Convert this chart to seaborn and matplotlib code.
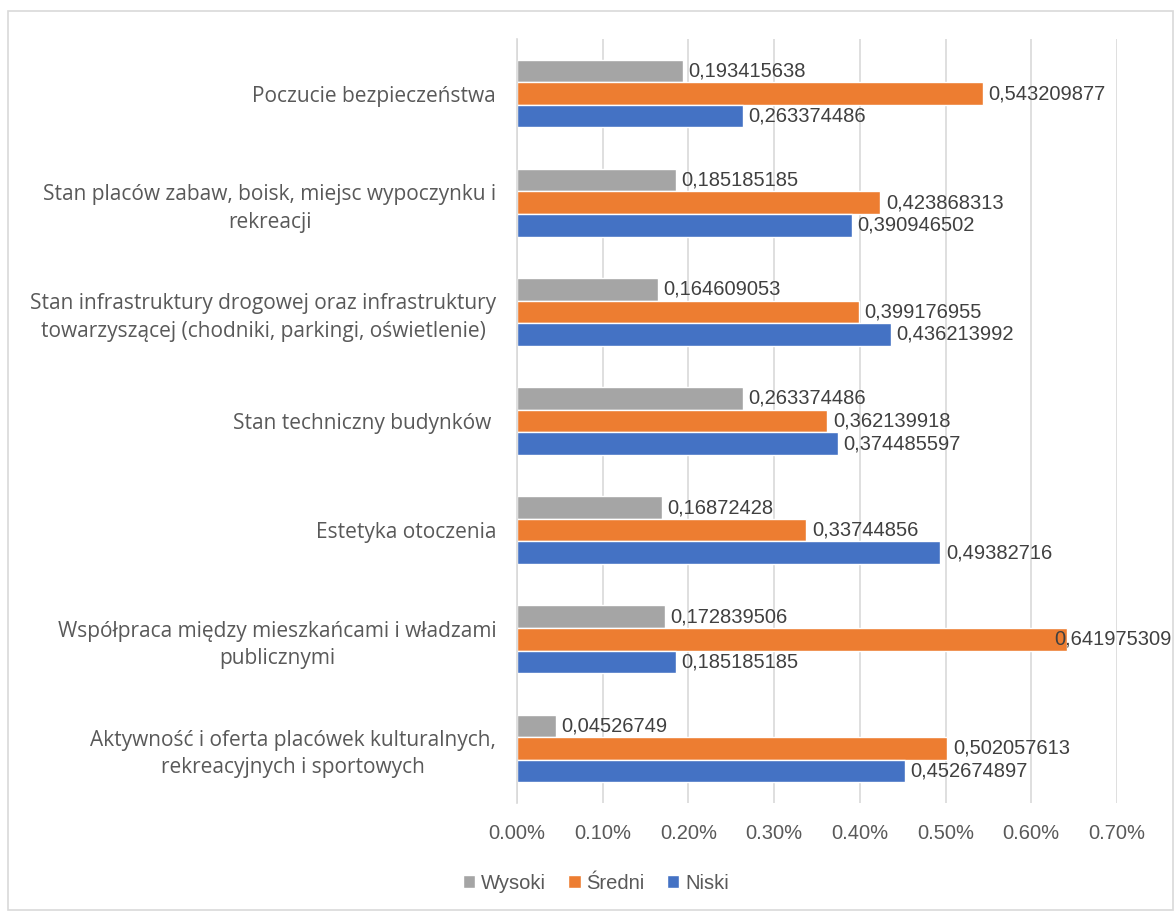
import matplotlib
matplotlib.use("Agg")
import matplotlib.pyplot as plt
import seaborn as sns
import pandas as pd
from matplotlib.patches import Rectangle

categories = [
    "Poczucie bezpieczeństwa",
    "Stan placów zabaw, boisk, miejsc wypoczynku i\nrekreacji",
    "Stan infrastruktury drogowej oraz infrastruktury\ntowarzyszącej (chodniki, parkingi, oświetlenie)",
    "Stan techniczny budynków ",
    "Estetyka otoczenia",
    "Współpraca między mieszkańcami i władzami\npublicznymi",
    "Aktywność i oferta placówek kulturalnych,\nrekreacyjnych i sportowych",
]
levels = ["Wysoki", "Średni", "Niski"]
wysoki = [0.193415638, 0.185185185, 0.164609053, 0.263374486, 0.16872428, 0.172839506, 0.04526749]
sredni = [0.543209877, 0.423868313, 0.399176955, 0.362139918, 0.33744856, 0.641975309, 0.502057613]
niski = [0.263374486, 0.390946502, 0.436213992, 0.374485597, 0.49382716, 0.185185185, 0.452674897]
x_ticks = [0.0, 0.1, 0.2, 0.3, 0.4, 0.5, 0.6, 0.7]
colors = ["#A5A5A5", "#ED7D31", "#4472C4"]

series = {"Wysoki": wysoki, "Średni": sredni, "Niski": niski}
rows = []
for lvl in levels:
    for cat, v in zip(categories, series[lvl]):
        rows.append({"category": cat, "level": lvl, "value": v})
df = pd.DataFrame(rows)

sns.set_theme(style="white")
narrow = ["Liberation Sans Narrow", "Liberation Sans", "DejaVu Sans"]
plt.rcParams["font.family"] = ["Open Sans", "DejaVu Sans"]
txt = "#595959"
num_size = 14.5
DPI = 100

fig = plt.figure(figsize=(11.75, 9.13), dpi=DPI)
ax = fig.add_axes([517 / 1175, 1 - 803 / 913, 600 / 1175, 764 / 913])

sns.barplot(data=df, x="value", y="category", hue="level", hue_order=levels,
            order=categories, palette=colors, saturation=1, width=0.62,
            errorbar=None, orient="h", ax=ax, legend=True)

label_texts = []
for cont, lvl in zip(ax.containers, levels):
    labels = [repr(v).replace(".", ",") for v in series[lvl]]
    label_texts += ax.bar_label(cont, labels=labels, padding=4, fontsize=num_size,
                                color="#404040", family=narrow)

ax.set_xlim(0, 0.7)
ax.set_xticks(x_ticks)
ax.set_xticklabels([f"{v:.2f}%" for v in x_ticks], family=narrow, fontsize=num_size, color=txt)
ax.set_xlabel("")
ax.set_ylabel("")
for lab in ax.get_yticklabels():
    lab.set_fontsize(15)
    lab.set_color(txt)
    lab.set_multialignment("center")
    lab.set_linespacing(1.4)
ax.tick_params(axis="y", length=0, pad=15)
ax.tick_params(axis="x", length=0, pad=15)
ax.grid(axis="x", color="#D9D9D9", linewidth=1.2)
ax.set_axisbelow(True)
for s in ["top", "right", "bottom"]:
    ax.spines[s].set_visible(False)
ax.spines["left"].set_color("#D9D9D9")
ax.spines["left"].set_linewidth(1.2)

handles, labs = ax.get_legend_handles_labels()
ax.get_legend().remove()
fig.legend(handles, labs, loc="center", bbox_to_anchor=(596 / 1175, 1 - 883 / 913),
           ncol=3, frameon=False, handlelength=0.6, handleheight=0.6,
           handletextpad=0.3, columnspacing=1.1,
           prop={"family": narrow, "size": num_size}, labelcolor=txt)

fig.patches.append(Rectangle((8 / 1175, 3 / 913), 1165 / 1175, 899 / 913,
                             transform=fig.transFigure, fill=False,
                             edgecolor="#D9D9D9", linewidth=1.2))

# keep labels that would run past the chart border inside it (as Excel does)
fig.canvas.draw()
renderer = fig.canvas.get_renderer()
limit = fig.bbox.width - 3
for t in label_texts:
    bb = t.get_window_extent(renderer)
    if bb.x1 > limit:
        dx = (bb.x1 - limit) * 72 / DPI
        t.xyann = (t.xyann[0] - dx, t.xyann[1])

fig.savefig("out.png", dpi=DPI)
